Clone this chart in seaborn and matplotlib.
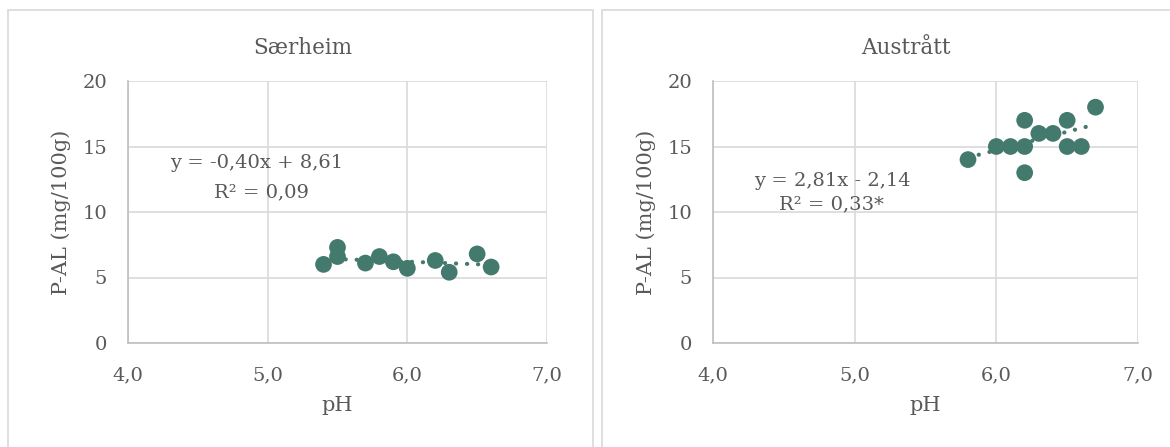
import numpy as np
import pandas as pd
import matplotlib
matplotlib.use("Agg")
import matplotlib.pyplot as plt
from matplotlib.patches import Rectangle
import seaborn as sns

# %%
# Særheim
ph_saerheim = [5.4, 5.5, 5.5, 5.7, 5.8, 5.9, 6.0, 6.2, 6.3, 6.5, 6.6]
pal_saerheim = [6.0, 7.3, 6.6, 6.1, 6.6, 6.2, 5.7, 6.3, 5.4, 6.8, 5.8]
fit_saerheim = (-0.40, 8.61)
eq_saerheim = ["y = -0,40x + 8,61", "R² = 0,09"]

# Austrått
ph_austratt = [5.8, 6.0, 6.1, 6.2, 6.2, 6.2, 6.3, 6.4, 6.5, 6.5, 6.6, 6.7]
pal_austratt = [14, 15, 15, 15, 17, 13, 16, 16, 17, 15, 15, 18]
fit_austratt = (2.81, -2.14)
eq_austratt = ["y = 2,81x - 2,14", "R² = 0,33*"]

x_ticks = [4.0, 5.0, 6.0, 7.0]
x_ticklabels = ["4,0", "5,0", "6,0", "7,0"]
y_ticks = [0, 5, 10, 15, 20]

# %%
sns.set_style("white")
plt.rcParams["font.family"] = ["DejaVu Serif"]
txt = "#595959"
grid = "#d9d9d9"
dot = "#447a6e"

fig = plt.figure(figsize=(11.7, 4.47), dpi=100)
W, H = 1170, 447

panels = [
  dict(name="Særheim", x=ph_saerheim, y=pal_saerheim, fit=fit_saerheim, eq=eq_saerheim,
       ax=(128, 547), box=(7.5, 593), title_x=303,
       eq_pos=[(257, 163), (262, 192)]),
  dict(name="Austrått", x=ph_austratt, y=pal_austratt, fit=fit_austratt, eq=eq_austratt,
       ax=(713, 1138), box=(602, 1200), title_x=906,
       eq_pos=[(832, 181), (831, 204)]),
]

for p in panels:
  # chart area border
  fig.patches.append(Rectangle(
    (p["box"][0] / W, -0.05), (p["box"][1] - p["box"][0]) / W, 1.05 - 10.5 / H,
    transform=fig.transFigure, fill=False, edgecolor=grid, linewidth=1.2))

  ax = fig.add_axes([p["ax"][0] / W, 1 - 343 / H, (p["ax"][1] - p["ax"][0]) / W, (343 - 81) / H])
  df = pd.DataFrame({"pH": p["x"], "P-AL": p["y"]})
  sns.scatterplot(data=df, x="pH", y="P-AL", color=dot, s=145, edgecolor="none",
                  ax=ax, zorder=3)

  slope, icpt = p["fit"]
  xs = np.array([min(p["x"]), max(p["x"])])
  sns.lineplot(x=xs, y=slope * xs + icpt, color=dot, linewidth=3,
               linestyle=(0, (0.05, 2.6)), dash_capstyle="round", ax=ax, zorder=2)

  ax.set_xlim(4.0, 7.0)
  ax.set_ylim(0, 20)
  ax.set_xticks(x_ticks)
  ax.set_xticklabels(x_ticklabels)
  ax.set_yticks(y_ticks)
  ax.tick_params(colors=txt, labelsize=14, length=0, pad=17)
  ax.tick_params(axis="y", pad=15)
  ax.grid(True, color=grid, linewidth=1.2)
  ax.set_axisbelow(True)
  for side in ["top", "right"]:
    ax.spines[side].set_visible(False)
  for side in ["left", "bottom"]:
    ax.spines[side].set_color("#bfbfbf")
    ax.spines[side].set_linewidth(1.2)
  ax.set_xlabel("pH", color=txt, fontsize=15, labelpad=8)
  ax.set_ylabel("P-AL (mg/100g)", color=txt, fontsize=15, labelpad=8)

  fig.text(p["title_x"] / W, 1 - 48 / H, p["name"], ha="center", va="center",
           color=txt, fontsize=15.5)
  for line, (tx, ty) in zip(p["eq"], p["eq_pos"]):
    fig.text(tx / W, 1 - ty / H, line, ha="center", va="center", color=txt, fontsize=14)

plt.savefig("out.png", dpi=100)
